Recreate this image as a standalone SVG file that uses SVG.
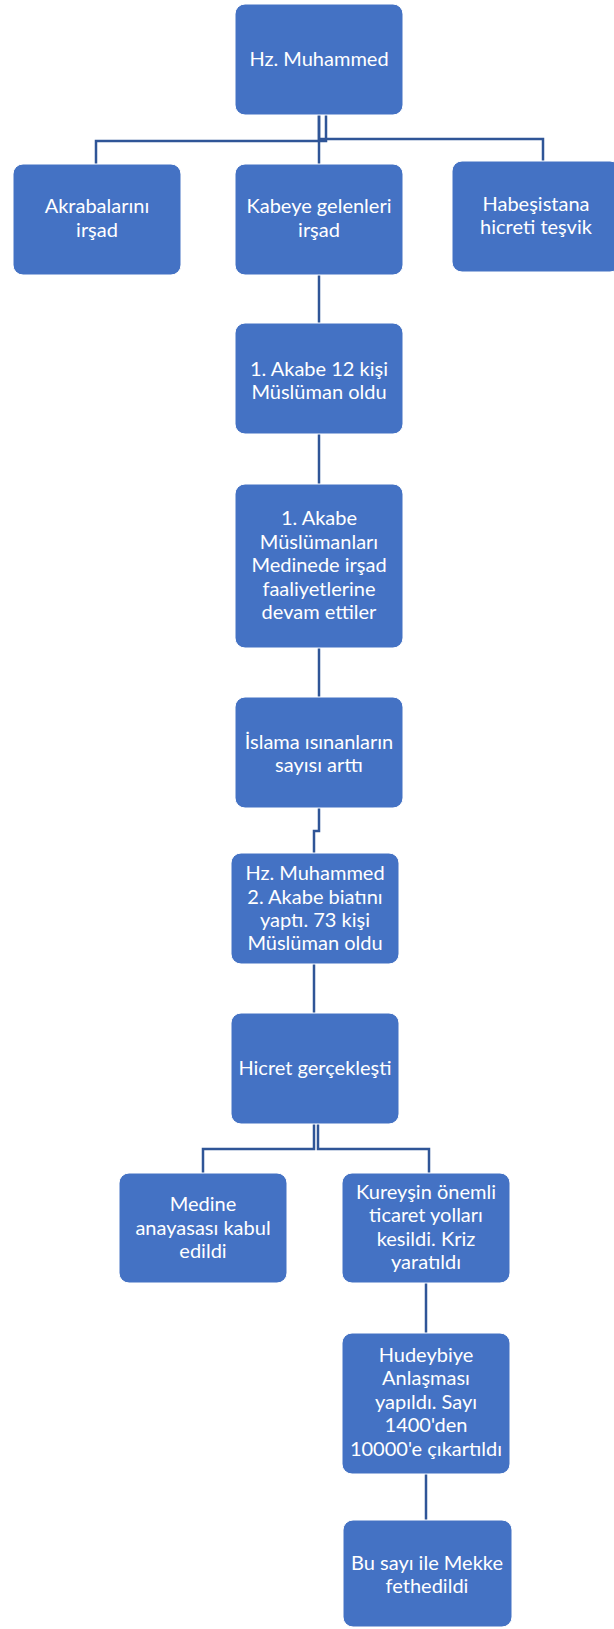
<svg xmlns="http://www.w3.org/2000/svg" width="614" height="1629" viewBox="0 0 614 1629">
<style>
.box{fill:#4472C4;stroke:#ffffff;stroke-width:1}
.t{font-family:Lato,"Open Sans","Liberation Sans",sans-serif;font-size:20px;fill:#ffffff;text-anchor:middle}
.c{fill:none;stroke:#2F5597;stroke-width:2.5}
</style>
<rect width="614" height="1629" fill="#ffffff"/>
<g id="connectors">
<path class="c" d="M319,115 V164"/>
<path class="c" d="M326,115 V141 H96 V164"/>
<path class="c" d="M319,115 V139 H543 V161"/>
<path class="c" d="M319,275 V323"/>
<path class="c" d="M319,434 V484"/>
<path class="c" d="M319,648 V697"/>
<path class="c" d="M319,808 V831 H314 V853"/>
<path class="c" d="M314,964 V1013"/>
<path class="c" d="M314,1124 V1149 H203 V1173"/>
<path class="c" d="M318,1124 V1149 H429 V1173"/>
<path class="c" d="M426,1283 V1333"/>
<path class="c" d="M426,1474 V1520"/>
</g>
<g id="n1"><rect class="box" x="235" y="4" width="168" height="111" rx="10"/>
<text class="t" x="319" y="66">Hz. Muhammed</text></g>
<g id="n2"><rect class="box" x="13" y="164" width="168" height="111" rx="10"/>
<text class="t" x="97" y="213">Akrabalarını</text><text class="t" x="97" y="237">irşad</text></g>
<g id="n3"><rect class="box" x="235" y="164" width="168" height="111" rx="10"/>
<text class="t" x="319" y="213">Kabeye gelenleri</text><text class="t" x="319" y="237">irşad</text></g>
<g id="n4"><rect class="box" x="452" y="161" width="168" height="111" rx="10"/>
<text class="t" x="536" y="211">Habeşistana</text><text class="t" x="536" y="234">hicreti teşvik</text></g>
<g id="n5"><rect class="box" x="235" y="323" width="168" height="111" rx="10"/>
<text class="t" x="319" y="376">1. Akabe 12 kişi</text><text class="t" x="319" y="399">Müslüman oldu</text></g>
<g id="n6"><rect class="box" x="235" y="484" width="168" height="164" rx="10"/>
<text class="t" x="319" y="525">1. Akabe</text><text class="t" x="319" y="548.5">Müslümanları</text><text class="t" x="319" y="572">Medinede irşad</text><text class="t" x="319" y="595.5">faaliyetlerine</text><text class="t" x="319" y="619">devam ettiler</text></g>
<g id="n7"><rect class="box" x="235" y="697" width="168" height="111" rx="10"/>
<text class="t" x="319" y="749">İslama ısınanların</text><text class="t" x="319" y="772">sayısı arttı</text></g>
<g id="n8"><rect class="box" x="231" y="853" width="168" height="111" rx="10"/>
<text class="t" x="315" y="880">Hz. Muhammed</text><text class="t" x="315" y="904">2. Akabe biatını</text><text class="t" x="315" y="927">yaptı. 73 kişi</text><text class="t" x="315" y="950">Müslüman oldu</text></g>
<g id="n9"><rect class="box" x="231" y="1013" width="168" height="111" rx="10"/>
<text class="t" x="315" y="1075">Hicret gerçekleşti</text></g>
<g id="n10"><rect class="box" x="119" y="1173" width="168" height="110" rx="10"/>
<text class="t" x="203" y="1211">Medine</text><text class="t" x="203" y="1235">anayasası kabul</text><text class="t" x="203" y="1258">edildi</text></g>
<g id="n11"><rect class="box" x="342" y="1173" width="168" height="110" rx="10"/>
<text class="t" x="426" y="1199">Kureyşin önemli</text><text class="t" x="426" y="1222">ticaret yolları</text><text class="t" x="426" y="1245.5">kesildi. Kriz</text><text class="t" x="426" y="1269">yaratıldı</text></g>
<g id="n12"><rect class="box" x="342" y="1333" width="168" height="141" rx="10"/>
<text class="t" x="426" y="1362">Hudeybiye</text><text class="t" x="426" y="1385">Anlaşması</text><text class="t" x="426" y="1409">yapıldı. Sayı</text><text class="t" x="426" y="1432">1400'den</text><text class="t" x="426" y="1456">10000'e çıkartıldı</text></g>
<g id="n13"><rect class="box" x="343" y="1520" width="169" height="107" rx="10"/>
<text class="t" x="427" y="1570">Bu sayı ile Mekke</text><text class="t" x="427" y="1593">fethedildi</text></g>
</svg>
